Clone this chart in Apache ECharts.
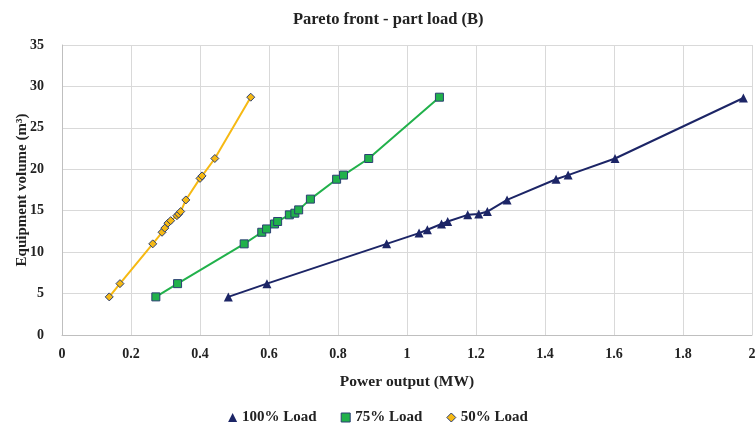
<!DOCTYPE html>
<html>
<head>
<meta charset="utf-8">
<script src="https://cdn.jsdelivr.net/npm/echarts@6/dist/echarts.min.js"></script>
<style>
html,body{margin:0;padding:0;background:#fff;}
#chart{width:756px;height:428px;}
</style>
</head>
<body>
<div id="chart"></div>
<script>
var load100X = [0.482, 0.594, 0.941, 1.035, 1.059, 1.100, 1.118, 1.176, 1.208, 1.233, 1.290, 1.432, 1.467, 1.603, 1.975];
var load100Y = [4.6, 6.2, 11.0, 12.3, 12.7, 13.4, 13.7, 14.5, 14.6, 14.9, 16.3, 18.8, 19.3, 21.3, 28.6];
var load75X = [0.272, 0.335, 0.528, 0.579, 0.593, 0.616, 0.625, 0.659, 0.675, 0.686, 0.720, 0.796, 0.816, 0.889, 1.094];
var load75Y = [4.6, 6.2, 11.0, 12.4, 12.8, 13.4, 13.7, 14.5, 14.7, 15.1, 16.4, 18.8, 19.3, 21.3, 28.7];
var load50X = [0.137, 0.168, 0.263, 0.290, 0.298, 0.307, 0.315, 0.333, 0.338, 0.344, 0.359, 0.400, 0.406, 0.443, 0.547];
var load50Y = [4.6, 6.2, 11.0, 12.4, 12.9, 13.5, 13.8, 14.4, 14.6, 14.9, 16.3, 18.9, 19.2, 21.3, 28.7];
var seriesNames = ['100% Load', '75% Load', '50% Load'];
var xTicks = {min: 0, max: 2, step: 0.2};
var yTicks = {min: 0, max: 35, step: 5};

function pairs(xs, ys) { return xs.map(function (x, i) { return [x, ys[i]]; }); }

var font = '"Liberation Serif", "Times New Roman", serif';
var navy = '#1c2566';
var green = '#21b14b';
var gold = '#f6b913';

var chart = echarts.init(document.getElementById('chart'), null, {renderer: 'canvas'});
chart.setOption({
  animation: false,
  backgroundColor: '#ffffff',
  title: {
    text: 'Pareto front - part load (B)',
    left: 288, top: 6,
    textStyle: {fontFamily: font, fontWeight: 'bold', fontSize: 16.5, color: '#222'}
  },
  grid: {left: 62, right: 4, top: 45, bottom: 93, containLabel: false, outerBoundsMode: 'none'},
  legend: {
    top: 405, left: 'center',
    itemWidth: 9, itemHeight: 9, itemGap: 24,
    textStyle: {fontFamily: font, fontWeight: 'bold', fontSize: 15, color: '#222'},
    data: [
      {name: seriesNames[0], icon: 'triangle', itemStyle: {color: navy, borderWidth: 0}},
      {name: seriesNames[1], icon: 'rect', itemStyle: {color: green, borderColor: '#2b3f73', borderWidth: 1}},
      {name: seriesNames[2], icon: 'diamond', itemStyle: {color: gold, borderColor: '#2b3f73', borderWidth: 1}}
    ]
  },
  xAxis: {
    type: 'value', min: xTicks.min, max: xTicks.max, interval: xTicks.step,
    name: 'Power output (MW)', nameLocation: 'middle', nameGap: 39,
    nameTextStyle: {fontFamily: font, fontWeight: 'bold', fontSize: 15.5, color: '#222'},
    axisLine: {show: true, lineStyle: {color: '#bfbfbf'}},
    axisTick: {show: false},
    axisLabel: {fontFamily: font, fontWeight: 'bold', fontSize: 14, color: '#222', margin: 12,
      formatter: function (v) { return String(Math.round(v * 10) / 10); }},
    splitLine: {show: true, lineStyle: {color: '#d9d9d9', width: 1}}
  },
  yAxis: {
    type: 'value', min: yTicks.min, max: yTicks.max, interval: yTicks.step,
    name: 'Equipment volume (m³)', nameLocation: 'middle', nameGap: 32, nameRotate: 90,
    nameMoveOverlap: false,
    nameTextStyle: {fontFamily: font, fontWeight: 'bold', fontSize: 15, color: '#222'},
    axisLine: {show: true, lineStyle: {color: '#bfbfbf'}},
    axisTick: {show: false},
    axisLabel: {fontFamily: font, fontWeight: 'bold', fontSize: 14, color: '#222', margin: 18},
    splitLine: {show: true, lineStyle: {color: '#d9d9d9', width: 1}}
  },
  series: [
    {
      name: seriesNames[0], type: 'line', data: pairs(load100X, load100Y),
      symbol: 'triangle', symbolSize: 9,
      lineStyle: {color: navy, width: 2},
      itemStyle: {color: navy, borderWidth: 0}
    },
    {
      name: seriesNames[1], type: 'line', data: pairs(load75X, load75Y),
      symbol: 'rect', symbolSize: 8,
      lineStyle: {color: green, width: 2},
      itemStyle: {color: green, borderColor: '#2b3f73', borderWidth: 1}
    },
    {
      name: seriesNames[2], type: 'line', data: pairs(load50X, load50Y),
      symbol: 'diamond', symbolSize: 8,
      lineStyle: {color: gold, width: 2},
      itemStyle: {color: gold, borderColor: '#2b3f73', borderWidth: 1}
    }
  ]
});
</script>
</body>
</html>
